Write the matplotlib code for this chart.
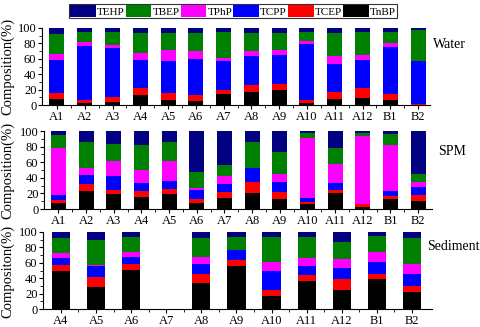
import numpy as np
import matplotlib
matplotlib.use("Agg")
import matplotlib.pyplot as plt
from matplotlib.patches import Patch
from matplotlib.ticker import MultipleLocator

plt.rcParams['font.family'] = ['Liberation Serif', 'DejaVu Serif']

componentes = ["TEHP", "TBEP", "TPhP", "TCPP", "TCEP", "TnBP"]
cores = {"TEHP": "#000080", "TBEP": "#008000", "TPhP": "#ff00ff",
         "TCPP": "#0000ff", "TCEP": "#ff0000", "TnBP": "#000000"}

# --- dados (%) ---
sitios_agua = ["A1", "A2", "A3", "A4", "A5", "A6", "A7", "A8", "A9", "A10", "A11", "A12", "B1", "B2"]
agua_TnBP = [8, 3, 4, 13, 7, 5, 14, 17, 19, 3, 8, 9, 7, 0.5]
agua_TCEP = [7, 3, 6, 9, 8, 8, 5, 9, 8, 4, 9, 13, 7, 1]
agua_TCPP = [43, 70, 64, 37, 42, 47, 38, 38, 38, 72, 36, 36, 61, 55.5]
agua_TPhP = [8, 6, 4, 8, 14, 10, 4, 6, 6, 4, 10, 7, 5, 0.5]
agua_TBEP = [26, 13, 17, 26, 22, 23, 34, 23, 22, 12, 30, 30, 15, 40.5]
agua_TEHP = [8, 5, 5, 7, 7, 7, 5, 7, 7, 5, 7, 5, 5, 2]

sitios_spm = ["A1", "A2", "A3", "A4", "A5", "A6", "A7", "A8", "A9", "A10", "A11", "A12", "B1", "B2"]
spm_TnBP = [8, 23, 19, 16, 19, 8, 14, 20, 13, 6, 20, 3, 13, 10]
spm_TCEP = [3, 9, 6, 7, 7, 5, 8, 15, 9, 3, 5, 3, 4, 8]
spm_TCPP = [7, 12, 17, 10, 10, 11, 10, 17, 12, 5, 8, 0.5, 6, 10]
spm_TPhP = [60, 8, 19, 17, 26, 3, 10, 0.5, 11, 77, 25, 86.5, 59, 6]
spm_TBEP = [17, 34, 22, 32, 24, 20, 14, 33.5, 28, 6, 20, 5, 14, 11]
spm_TEHP = [5, 14, 17, 18, 14, 53, 44, 14, 27, 3, 22, 2, 4, 55]

sitios_sed = ["A4", "A5", "A6", "A7", "A8", "A9", "A10", "A11", "A12", "B1", "B2"]
sed_TnBP = [49, 29, 51, 0, 34, 56, 17, 37, 25, 39, 22]
sed_TCEP = [8, 12, 7, 0, 12, 7, 8, 7, 14, 7, 8]
sed_TCPP = [9, 15, 9, 0, 13, 13, 25, 12, 14, 15, 15]
sed_TPhP = [7, 1, 7, 0, 9, 0.5, 11, 10, 12, 13, 13]
sed_TBEP = [19, 32, 19, 0, 24, 16.5, 32, 27, 22, 21, 34]
sed_TEHP = [8, 11, 7, 0, 8, 7, 7, 7, 13, 5, 8]


def empilhar(ax, sitios, series, largura):
    """Barras empilhadas de baixo (TnBP) para cima (TEHP)."""
    x = np.arange(len(sitios))
    base = np.zeros(len(sitios))
    for nome in ["TnBP", "TCEP", "TCPP", "TPhP", "TBEP", "TEHP"]:
        vals = np.array(series[nome], dtype=float)
        ax.bar(x, vals, largura, bottom=base, color=cores[nome], linewidth=0)
        base += vals
    ax.set_xticks(x)
    ax.set_xticklabels(sitios, fontsize=9)
    ax.set_xticks(x[:-1] + 0.5, minor=True)
    ax.set_ylim(0, 100)
    ax.yaxis.set_major_locator(MultipleLocator(20))
    ax.yaxis.set_minor_locator(MultipleLocator(10))
    ax.tick_params(axis='y', labelsize=9, direction='out', length=3, pad=1)
    ax.tick_params(axis='x', direction='out', length=3, pad=1)
    ax.tick_params(which='minor', direction='out', length=2)
    for s in ['top', 'right']:
        ax.spines[s].set_visible(False)
    for s in ['left', 'bottom']:
        ax.spines[s].set_linewidth(0.8)


fig = plt.figure(figsize=(4.81, 3.27), dpi=100)
W, H = 481, 327

def caixa(x0, x1, ytop, ybot):
    return [x0 / W, 1 - ybot / H, (x1 - x0) / W, (ybot - ytop) / H]

ax1 = fig.add_axes(caixa(42, 430, 28, 105))
empilhar(ax1, sitios_agua, {"TnBP": agua_TnBP, "TCEP": agua_TCEP, "TCPP": agua_TCPP,
                            "TPhP": agua_TPhP, "TBEP": agua_TBEP, "TEHP": agua_TEHP}, 0.54)
ax1.set_xlim(-0.54, 13.43)

ax2 = fig.add_axes(caixa(44, 432, 131, 209))
empilhar(ax2, sitios_spm, {"TnBP": spm_TnBP, "TCEP": spm_TCEP, "TCPP": spm_TCPP,
                           "TPhP": spm_TPhP, "TBEP": spm_TBEP, "TEHP": spm_TEHP}, 0.54)
ax2.set_xlim(-0.52, 13.5)

ax3 = fig.add_axes(caixa(43, 432, 232, 309))
empilhar(ax3, sitios_sed, {"TnBP": sed_TnBP, "TCEP": sed_TCEP, "TCPP": sed_TCPP,
                           "TPhP": sed_TPhP, "TBEP": sed_TBEP, "TEHP": sed_TEHP}, 0.52)
ax3.set_xlim(-0.51, 10.57)

# rótulos dos eixos e dos compartimentos
fig.text(8 / W, 1 - 66 / H, "Composition(%)", rotation=90, ha='center', va='center', fontsize=10.5)
fig.text(8 / W, 1 - 170 / H, "Composition(%)", rotation=90, ha='center', va='center', fontsize=10.5)
fig.text(8 / W, 1 - 271 / H, "Compositon(%)", rotation=90, ha='center', va='center', fontsize=10.5)
fig.text(433 / W, 1 - 45 / H, "Water", ha='left', va='center', fontsize=10)
fig.text(438 / W, 1 - 152 / H, "SPM", ha='left', va='center', fontsize=10)
fig.text(427 / W, 1 - 247 / H, "Sediment", ha='left', va='center', fontsize=10)

handles = [Patch(facecolor=cores[c], edgecolor='none', label=c) for c in componentes]
leg = fig.legend(handles=handles, loc='center', bbox_to_anchor=(233 / W, 1 - 11 / H),
                 ncol=6, fontsize=8, frameon=True, fancybox=False, handlelength=2.3,
                 handleheight=1.2, handletextpad=0.1, columnspacing=0.1,
                 borderpad=0.15, borderaxespad=0)
leg.get_frame().set_edgecolor('black')
leg.get_frame().set_linewidth(0.8)

fig.savefig("out.png", dpi=100)
